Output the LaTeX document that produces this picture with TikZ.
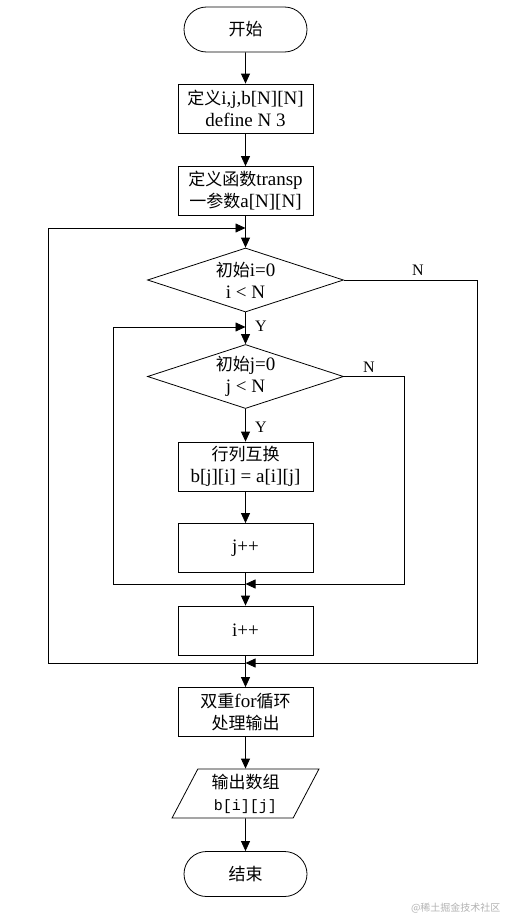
\documentclass[tikz,border=0pt]{standalone}
\usepackage{fontspec}
\setmainfont{Liberation Serif}
\newfontfamily\cjk{Noto Sans CJK SC}
\newfontfamily\monofam{Liberation Mono}
\usetikzlibrary{shapes.geometric,shapes.misc,arrows.meta}
\newcommand\zh[1]{{\cjk\fontsize{17}{22}\selectfont #1}}
\begin{document}
\begin{tikzpicture}[x=1pt,y=-1pt,
  every node/.style={font=\fontsize{19}{22}\selectfont, align=center},
  box/.style={draw, line width=0.8pt, minimum width=135pt, minimum height=49pt, inner sep=0pt},
  term/.style={draw, line width=0.8pt, rounded rectangle, minimum width=123pt, minimum height=45pt, inner sep=0pt},
  dec/.style={draw, line width=0.8pt, diamond, aspect=3, minimum width=196pt, minimum height=64pt, inner sep=0pt},
  io/.style={draw, line width=0.8pt, trapezium, trapezium left angle=65, trapezium right angle=115, trapezium stretches=true, minimum width=147pt, minimum height=49pt, inner sep=0pt},
  arr/.style={-{Triangle[length=10pt,width=9pt]}, line width=0.8pt},
  ln/.style={line width=0.8pt},
  lab/.style={font=\fontsize{16}{16}\selectfont}]
\useasboundingbox (0,0) rectangle (508,918);
\node[term] (start) at (245.5,29.5) {\zh{开始}};
\node[box] (b1) at (245.5,108.5) {\zh{定义}i,j,b[N][N]\\define N 3};
\node[box] (b2) at (245.5,191) {\zh{定义函数}transp\\\zh{一参数}a[N][N]};
\node[dec] (d1) at (245.5,280) {\zh{初始}i=0\\i {\textless} N};
\node[dec] (d2) at (245.5,376.5) {\zh{初始}j=0\\j {\textless} N};
\node[box] (b3) at (245.5,466.5) {\zh{行列互换}\\b[j][i] = a[i][j]};
\node[box] (b4) at (245.5,548) {j++};
\node[box] (b5) at (245.5,630.5) {i++};
\node[box] (b6) at (245.5,712) {\zh{双重}for\zh{循环}\\\zh{处理输出}};
\node[io] (o) at (245.5,793.5) {\zh{输出数组}\\{\monofam\fontsize{15}{22}\selectfont b[i][j]}};
\node[term] (end) at (245.5,874) {\zh{结束}};
\coordinate (top) at (245.5,228);
\coordinate (yin) at (245.5,327);
\coordinate (jn) at (245.5,584);
\coordinate (in) at (245.5,663);
% main flow
\draw[arr] (start) -- (b1);
\draw[arr] (b1) -- (b2);
\draw[arr] (b2) -- (d1);
\draw[arr] (d1) -- (d2);
\draw[arr] (d2) -- (b3);
\draw[arr] (b3) -- (b4);
\draw[ln] (b4) -- (jn);
\draw[arr] (jn) -- (b5);
\draw[ln] (b5) -- (in);
\draw[arr] (in) -- (b6);
\draw[arr] (b6) -- (o);
\draw[arr] (o) -- (end);
% inner loop
\draw[arr] (jn) -- ++(-132.5,0) |- (yin);
\draw[arr] (d2.east) -- ++(60.5,0) |- (jn);
% outer loop
\draw[arr] (in) -- ++(-197.5,0) |- (top);
\draw[arr] (d1.east) -- ++(133.5,0) |- (in);
% labels
\node[lab] at (261,326) {Y};
\node[lab] at (261,427) {Y};
\node[lab] at (418,270) {N};
\node[lab] at (369,367) {N};
\node[text=gray!60, font=\cjk\fontsize{10}{10}\selectfont, anchor=east] (wm) at (504,908) {@稀土掘金技术社区};
\end{tikzpicture}
\end{document}
